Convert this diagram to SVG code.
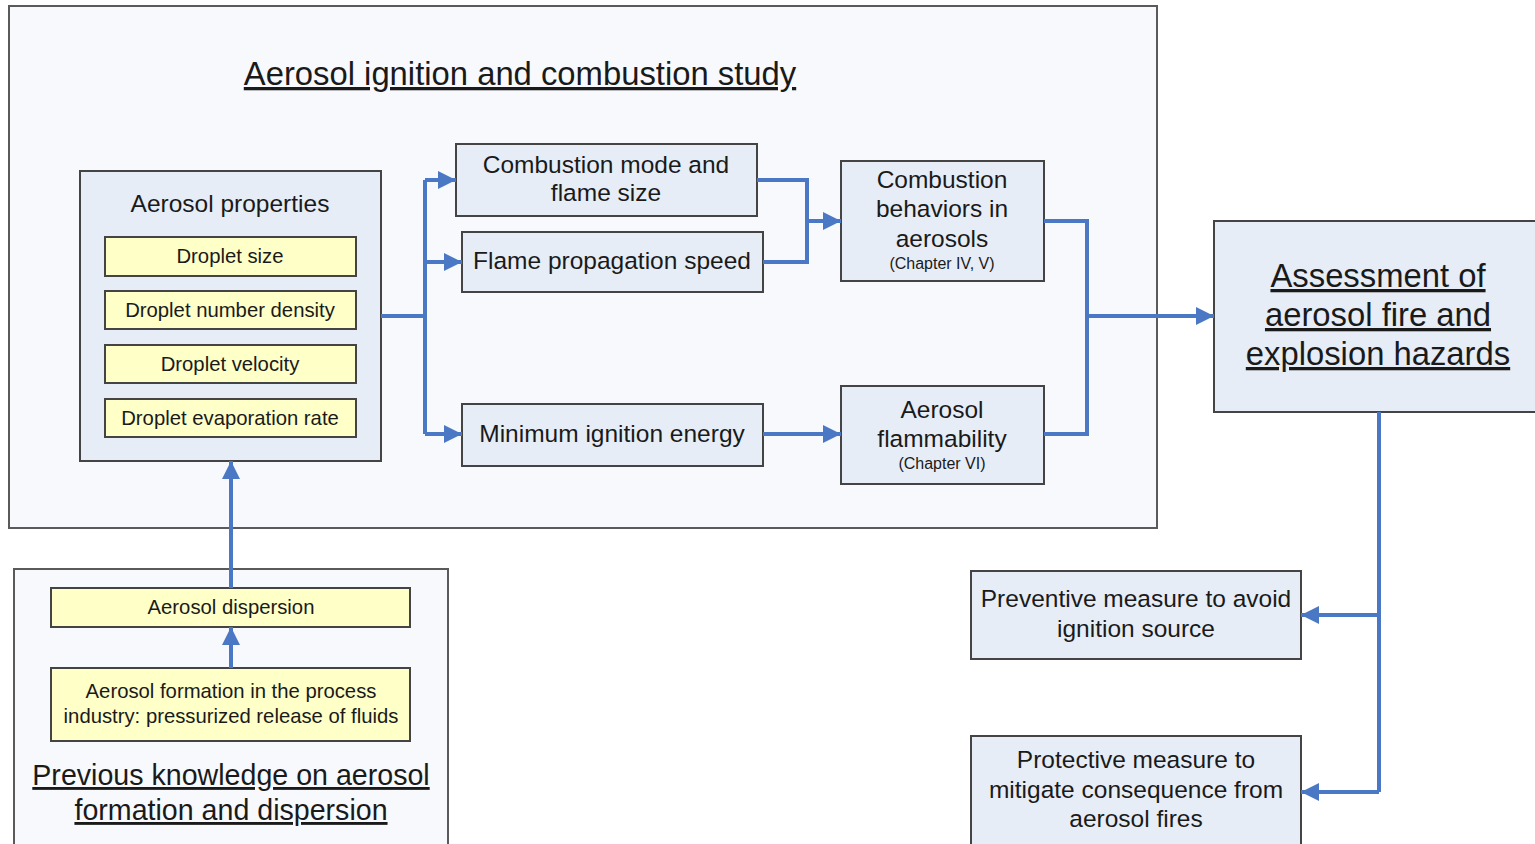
<svg xmlns="http://www.w3.org/2000/svg" width="1535" height="844" viewBox="0 0 1535 844">
<defs>
<style>
text{font-family:"Liberation Sans",Arial,sans-serif;fill:#1a1a1a;text-anchor:middle}
.frame{fill:#f7f9fd;stroke:#5a5a5a;stroke-width:2}
.box{fill:#e6edf7;stroke:#444;stroke-width:2}
.yel{fill:#ffffc8;stroke:#444;stroke-width:2}
.t22{font-size:24.5px}
.t18{font-size:20.3px}
.t14{font-size:16px}
.big{font-size:32.8px;text-decoration:underline}
.mid{font-size:28.6px;text-decoration:underline}
.con{fill:none;stroke:#4a78c4;stroke-width:4}
.arr{marker-end:url(#ah)}
</style>
<marker id="ah" markerUnits="userSpaceOnUse" markerWidth="20" markerHeight="20" refX="18" refY="9" orient="auto">
<path d="M0,0 L18,9 L0,18 Z" fill="#4a78c4"/>
</marker>
</defs>
<rect width="1535" height="844" fill="#fff"/>

<g id="study-frame">
<rect class="frame" x="9" y="6" width="1148" height="522"/>
<text class="big" x="520" y="85">Aerosol ignition and combustion study</text>
</g>

<g id="previous-frame">
<rect class="frame" x="14" y="569" width="434" height="290"/>
<text class="mid" x="231" y="785">Previous knowledge on aerosol</text>
<text class="mid" x="231" y="820">formation and dispersion</text>
</g>

<g id="aerosol-properties">
<rect class="box" x="80" y="171" width="301" height="290"/>
<text class="t22" x="230" y="212">Aerosol properties</text>
</g>
<g id="droplet-size"><rect class="yel" x="105" y="237" width="251" height="39"/><text class="t18" x="230" y="263">Droplet size</text></g>
<g id="droplet-number-density"><rect class="yel" x="105" y="291" width="251" height="38"/><text class="t18" x="230" y="317">Droplet number density</text></g>
<g id="droplet-velocity"><rect class="yel" x="105" y="345" width="251" height="38"/><text class="t18" x="230" y="371">Droplet velocity</text></g>
<g id="droplet-evaporation-rate"><rect class="yel" x="105" y="399" width="251" height="38"/><text class="t18" x="230" y="425">Droplet evaporation rate</text></g>

<g id="combustion-mode"><rect class="box" x="456" y="144" width="301" height="72"/><text class="t22" x="606" y="173">Combustion mode and</text><text class="t22" x="606" y="201">flame size</text></g>
<g id="flame-propagation"><rect class="box" x="462" y="232" width="301" height="60"/><text class="t22" x="612" y="269">Flame propagation speed</text></g>
<g id="min-ignition-energy"><rect class="box" x="462" y="404" width="301" height="62"/><text class="t22" x="612" y="442">Minimum ignition energy</text></g>

<g id="combustion-behaviors"><rect class="box" x="841" y="161" width="203" height="120"/>
<text class="t22" x="942" y="188">Combustion</text><text class="t22" x="942" y="217">behaviors in</text><text class="t22" x="942" y="247">aerosols</text><text class="t14" x="942" y="269">(Chapter IV, V)</text></g>
<g id="aerosol-flammability"><rect class="box" x="841" y="386" width="203" height="98"/>
<text class="t22" x="942" y="418">Aerosol</text><text class="t22" x="942" y="447">flammability</text><text class="t14" x="942" y="469">(Chapter VI)</text></g>

<g id="assessment"><rect class="box" x="1214" y="221" width="330" height="191"/>
<text class="big" x="1378" y="287">Assessment of</text><text class="big" x="1378" y="326">aerosol fire and</text><text class="big" x="1378" y="365">explosion hazards</text></g>

<g id="preventive"><rect class="box" x="971" y="571" width="330" height="88"/>
<text class="t22" x="1136" y="607">Preventive measure to avoid</text><text class="t22" x="1136" y="637">ignition source</text></g>
<g id="protective"><rect class="box" x="971" y="736" width="330" height="120"/>
<text class="t22" x="1136" y="768">Protective measure to</text><text class="t22" x="1136" y="798">mitigate consequence from</text><text class="t22" x="1136" y="827">aerosol fires</text></g>

<g id="aerosol-dispersion"><rect class="yel" x="51" y="588" width="359" height="39"/><text class="t18" x="231" y="614">Aerosol dispersion</text></g>
<g id="aerosol-formation"><rect class="yel" x="51" y="668" width="359" height="73"/><text class="t18" x="231" y="698">Aerosol formation in the process</text><text class="t18" x="231" y="723">industry: pressurized release of fluids</text></g>

<g id="connectors">
<path class="con" d="M381,316 H425"/>
<path class="con" d="M425,434 V180"/>
<path class="con arr" d="M425,180 H456"/>
<path class="con arr" d="M425,262 H462"/>
<path class="con arr" d="M425,434 H462"/>
<path class="con" d="M757,180 H807 V262 H763"/>
<path class="con arr" d="M807,221 H841"/>
<path class="con arr" d="M763,434 H841"/>
<path class="con" d="M1044,221 H1087 V434 H1044"/>
<path class="con arr" d="M1087,316 H1214"/>
<path class="con" d="M1379,412 V792"/>
<path class="con arr" d="M1379,615 H1301"/>
<path class="con arr" d="M1379,792 H1301"/>
<path class="con arr" d="M231,588 V461"/>
<path class="con arr" d="M231,668 V627"/>
</g>
</svg>
